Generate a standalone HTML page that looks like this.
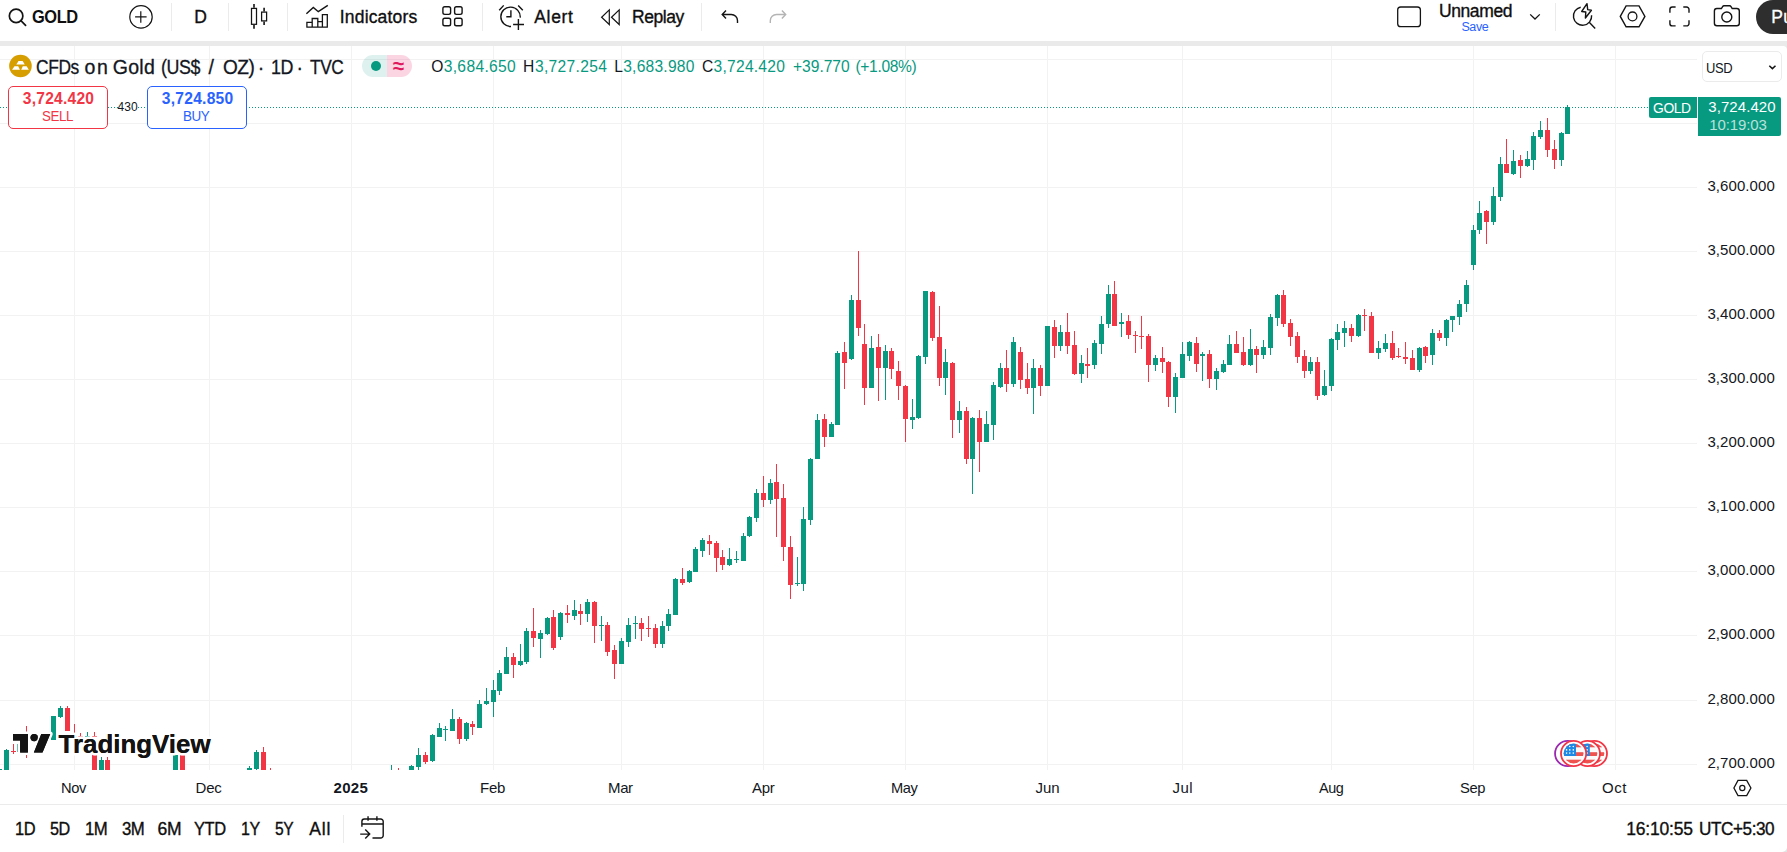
<!DOCTYPE html>
<html lang="en"><head><meta charset="utf-8"><title>GOLD 3,724.420 — TradingView</title>
<style>
html,body{margin:0;padding:0;background:#fff;}
body{width:1787px;height:852px;position:relative;overflow:hidden;font-family:"Liberation Sans",sans-serif;}
.t{position:absolute;white-space:pre;line-height:1;display:block;}
.abs{position:absolute;}
.chart{position:absolute;left:0;top:0;}
.sepbar{position:absolute;left:0;top:41px;width:1787px;height:5px;background:#eaeaea;}
.vsep{position:absolute;width:1px;background:#ebebeb;top:3px;height:28px;}
.box{position:absolute;box-sizing:border-box;border-radius:5px;background:#fff;}
</style></head><body>
<div class="sepbar"></div>
<svg class="chart" width="1787" height="852" viewBox="0 0 1787 852" shape-rendering="crispEdges">
<rect x="0" y="59" width="1697" height="1" fill="#f2f2f3"/>
<rect x="0" y="123" width="1697" height="1" fill="#f2f2f3"/>
<rect x="0" y="187" width="1697" height="1" fill="#f2f2f3"/>
<rect x="0" y="251" width="1697" height="1" fill="#f2f2f3"/>
<rect x="0" y="315" width="1697" height="1" fill="#f2f2f3"/>
<rect x="0" y="379" width="1697" height="1" fill="#f2f2f3"/>
<rect x="0" y="443" width="1697" height="1" fill="#f2f2f3"/>
<rect x="0" y="507" width="1697" height="1" fill="#f2f2f3"/>
<rect x="0" y="571" width="1697" height="1" fill="#f2f2f3"/>
<rect x="0" y="635" width="1697" height="1" fill="#f2f2f3"/>
<rect x="0" y="700" width="1697" height="1" fill="#f2f2f3"/>
<rect x="0" y="764" width="1697" height="1" fill="#f2f2f3"/>
<rect x="74" y="46" width="1" height="724" fill="#f2f2f3"/>
<rect x="209" y="46" width="1" height="724" fill="#f2f2f3"/>
<rect x="351" y="46" width="1" height="724" fill="#f2f2f3"/>
<rect x="493" y="46" width="1" height="724" fill="#f2f2f3"/>
<rect x="621" y="46" width="1" height="724" fill="#f2f2f3"/>
<rect x="763" y="46" width="1" height="724" fill="#f2f2f3"/>
<rect x="905" y="46" width="1" height="724" fill="#f2f2f3"/>
<rect x="1047" y="46" width="1" height="724" fill="#f2f2f3"/>
<rect x="1182" y="46" width="1" height="724" fill="#f2f2f3"/>
<rect x="1331" y="46" width="1" height="724" fill="#f2f2f3"/>
<rect x="1473" y="46" width="1" height="724" fill="#f2f2f3"/>
<rect x="1615" y="46" width="1" height="724" fill="#f2f2f3"/>
<rect x="-1" y="769" width="1" height="1" fill="#089981"/>
<rect x="-3" y="769" width="5" height="1" fill="#089981"/>
<rect x="6" y="749" width="1" height="21" fill="#089981"/>
<rect x="4" y="750" width="5" height="20" fill="#089981"/>
<rect x="13" y="744" width="1" height="10" fill="#f23645"/>
<rect x="11" y="751" width="5" height="1" fill="#f23645"/>
<rect x="19" y="744" width="1" height="8" fill="#089981"/>
<rect x="17" y="744" width="5" height="8" fill="#089981"/>
<rect x="26" y="726" width="1" height="32" fill="#f23645"/>
<rect x="24" y="736" width="5" height="16" fill="#f23645"/>
<rect x="53" y="716" width="1" height="24" fill="#089981"/>
<rect x="51" y="716" width="5" height="24" fill="#089981"/>
<rect x="60" y="706" width="1" height="12" fill="#089981"/>
<rect x="58" y="708" width="5" height="9" fill="#089981"/>
<rect x="67" y="706" width="1" height="25" fill="#f23645"/>
<rect x="65" y="708" width="5" height="23" fill="#f23645"/>
<rect x="74" y="724" width="1" height="21" fill="#f23645"/>
<rect x="72" y="736" width="5" height="9" fill="#f23645"/>
<rect x="80" y="733" width="1" height="12" fill="#f23645"/>
<rect x="78" y="736" width="5" height="9" fill="#f23645"/>
<rect x="87" y="732" width="1" height="13" fill="#089981"/>
<rect x="85" y="736" width="5" height="9" fill="#089981"/>
<rect x="94" y="732" width="1" height="38" fill="#f23645"/>
<rect x="92" y="736" width="5" height="34" fill="#f23645"/>
<rect x="101" y="757" width="1" height="13" fill="#089981"/>
<rect x="99" y="760" width="5" height="10" fill="#089981"/>
<rect x="107" y="757" width="1" height="13" fill="#f23645"/>
<rect x="105" y="760" width="5" height="10" fill="#f23645"/>
<rect x="175" y="753" width="1" height="17" fill="#089981"/>
<rect x="173" y="755" width="5" height="15" fill="#089981"/>
<rect x="182" y="755" width="1" height="15" fill="#f23645"/>
<rect x="180" y="755" width="5" height="15" fill="#f23645"/>
<rect x="249" y="766" width="1" height="4" fill="#089981"/>
<rect x="247" y="768" width="5" height="2" fill="#089981"/>
<rect x="256" y="750" width="1" height="20" fill="#089981"/>
<rect x="254" y="752" width="5" height="17" fill="#089981"/>
<rect x="263" y="747" width="1" height="23" fill="#f23645"/>
<rect x="261" y="752" width="5" height="18" fill="#f23645"/>
<rect x="270" y="768" width="1" height="2" fill="#f23645"/>
<rect x="391" y="765" width="1" height="5" fill="#089981"/>
<rect x="398" y="768" width="1" height="2" fill="#f23645"/>
<rect x="411" y="765" width="1" height="5" fill="#089981"/>
<rect x="409" y="766" width="5" height="4" fill="#089981"/>
<rect x="418" y="748" width="1" height="22" fill="#089981"/>
<rect x="416" y="755" width="5" height="12" fill="#089981"/>
<rect x="425" y="752" width="1" height="12" fill="#f23645"/>
<rect x="423" y="755" width="5" height="7" fill="#f23645"/>
<rect x="432" y="734" width="1" height="28" fill="#089981"/>
<rect x="430" y="735" width="5" height="26" fill="#089981"/>
<rect x="439" y="723" width="1" height="14" fill="#089981"/>
<rect x="437" y="728" width="5" height="9" fill="#089981"/>
<rect x="445" y="726" width="1" height="15" fill="#089981"/>
<rect x="443" y="729" width="5" height="1" fill="#089981"/>
<rect x="452" y="709" width="1" height="22" fill="#089981"/>
<rect x="450" y="719" width="5" height="12" fill="#089981"/>
<rect x="459" y="717" width="1" height="27" fill="#f23645"/>
<rect x="457" y="719" width="5" height="20" fill="#f23645"/>
<rect x="466" y="722" width="1" height="19" fill="#089981"/>
<rect x="464" y="723" width="5" height="16" fill="#089981"/>
<rect x="472" y="721" width="1" height="14" fill="#f23645"/>
<rect x="470" y="724" width="5" height="3" fill="#f23645"/>
<rect x="479" y="700" width="1" height="28" fill="#089981"/>
<rect x="477" y="704" width="5" height="24" fill="#089981"/>
<rect x="486" y="688" width="1" height="17" fill="#089981"/>
<rect x="484" y="701" width="5" height="3" fill="#089981"/>
<rect x="493" y="680" width="1" height="37" fill="#089981"/>
<rect x="491" y="690" width="5" height="12" fill="#089981"/>
<rect x="499" y="670" width="1" height="25" fill="#089981"/>
<rect x="497" y="673" width="5" height="18" fill="#089981"/>
<rect x="506" y="647" width="1" height="27" fill="#089981"/>
<rect x="504" y="657" width="5" height="17" fill="#089981"/>
<rect x="513" y="653" width="1" height="25" fill="#f23645"/>
<rect x="511" y="657" width="5" height="8" fill="#f23645"/>
<rect x="520" y="644" width="1" height="22" fill="#089981"/>
<rect x="518" y="661" width="5" height="4" fill="#089981"/>
<rect x="526" y="628" width="1" height="36" fill="#089981"/>
<rect x="524" y="631" width="5" height="31" fill="#089981"/>
<rect x="533" y="608" width="1" height="39" fill="#f23645"/>
<rect x="531" y="631" width="5" height="7" fill="#f23645"/>
<rect x="540" y="630" width="1" height="28" fill="#089981"/>
<rect x="538" y="633" width="5" height="6" fill="#089981"/>
<rect x="547" y="617" width="1" height="18" fill="#089981"/>
<rect x="545" y="618" width="5" height="16" fill="#089981"/>
<rect x="553" y="610" width="1" height="40" fill="#f23645"/>
<rect x="551" y="617" width="5" height="31" fill="#f23645"/>
<rect x="560" y="612" width="1" height="28" fill="#089981"/>
<rect x="558" y="613" width="5" height="24" fill="#089981"/>
<rect x="567" y="605" width="1" height="18" fill="#f23645"/>
<rect x="565" y="613" width="5" height="2" fill="#f23645"/>
<rect x="574" y="600" width="1" height="20" fill="#089981"/>
<rect x="572" y="610" width="5" height="6" fill="#089981"/>
<rect x="580" y="604" width="1" height="21" fill="#f23645"/>
<rect x="578" y="611" width="5" height="3" fill="#f23645"/>
<rect x="587" y="599" width="1" height="23" fill="#089981"/>
<rect x="585" y="602" width="5" height="12" fill="#089981"/>
<rect x="594" y="601" width="1" height="42" fill="#f23645"/>
<rect x="592" y="602" width="5" height="24" fill="#f23645"/>
<rect x="601" y="616" width="1" height="25" fill="#089981"/>
<rect x="599" y="625" width="5" height="1" fill="#089981"/>
<rect x="607" y="622" width="1" height="34" fill="#f23645"/>
<rect x="605" y="625" width="5" height="27" fill="#f23645"/>
<rect x="614" y="645" width="1" height="34" fill="#f23645"/>
<rect x="612" y="650" width="5" height="14" fill="#f23645"/>
<rect x="621" y="638" width="1" height="26" fill="#089981"/>
<rect x="619" y="641" width="5" height="23" fill="#089981"/>
<rect x="628" y="618" width="1" height="29" fill="#089981"/>
<rect x="626" y="625" width="5" height="17" fill="#089981"/>
<rect x="635" y="616" width="1" height="23" fill="#089981"/>
<rect x="633" y="623" width="5" height="1" fill="#089981"/>
<rect x="641" y="618" width="1" height="23" fill="#f23645"/>
<rect x="639" y="623" width="5" height="6" fill="#f23645"/>
<rect x="648" y="616" width="1" height="21" fill="#f23645"/>
<rect x="646" y="628" width="5" height="1" fill="#f23645"/>
<rect x="655" y="624" width="1" height="24" fill="#f23645"/>
<rect x="653" y="628" width="5" height="16" fill="#f23645"/>
<rect x="662" y="621" width="1" height="27" fill="#089981"/>
<rect x="660" y="626" width="5" height="18" fill="#089981"/>
<rect x="668" y="609" width="1" height="22" fill="#089981"/>
<rect x="666" y="614" width="5" height="12" fill="#089981"/>
<rect x="675" y="578" width="1" height="37" fill="#089981"/>
<rect x="673" y="579" width="5" height="36" fill="#089981"/>
<rect x="682" y="568" width="1" height="17" fill="#f23645"/>
<rect x="680" y="579" width="5" height="4" fill="#f23645"/>
<rect x="689" y="570" width="1" height="13" fill="#089981"/>
<rect x="687" y="571" width="5" height="11" fill="#089981"/>
<rect x="695" y="547" width="1" height="25" fill="#089981"/>
<rect x="693" y="549" width="5" height="23" fill="#089981"/>
<rect x="702" y="538" width="1" height="19" fill="#089981"/>
<rect x="700" y="540" width="5" height="11" fill="#089981"/>
<rect x="709" y="535" width="1" height="20" fill="#f23645"/>
<rect x="707" y="541" width="5" height="3" fill="#f23645"/>
<rect x="716" y="541" width="1" height="31" fill="#f23645"/>
<rect x="714" y="543" width="5" height="15" fill="#f23645"/>
<rect x="722" y="550" width="1" height="20" fill="#f23645"/>
<rect x="720" y="557" width="5" height="8" fill="#f23645"/>
<rect x="729" y="548" width="1" height="18" fill="#089981"/>
<rect x="727" y="559" width="5" height="6" fill="#089981"/>
<rect x="736" y="551" width="1" height="12" fill="#089981"/>
<rect x="734" y="559" width="5" height="1" fill="#089981"/>
<rect x="743" y="533" width="1" height="28" fill="#089981"/>
<rect x="741" y="536" width="5" height="25" fill="#089981"/>
<rect x="749" y="516" width="1" height="21" fill="#089981"/>
<rect x="747" y="517" width="5" height="19" fill="#089981"/>
<rect x="756" y="489" width="1" height="33" fill="#089981"/>
<rect x="754" y="493" width="5" height="25" fill="#089981"/>
<rect x="763" y="476" width="1" height="31" fill="#f23645"/>
<rect x="761" y="493" width="5" height="7" fill="#f23645"/>
<rect x="770" y="479" width="1" height="25" fill="#089981"/>
<rect x="768" y="483" width="5" height="17" fill="#089981"/>
<rect x="776" y="464" width="1" height="73" fill="#f23645"/>
<rect x="774" y="482" width="5" height="17" fill="#f23645"/>
<rect x="783" y="484" width="1" height="77" fill="#f23645"/>
<rect x="781" y="498" width="5" height="49" fill="#f23645"/>
<rect x="790" y="536" width="1" height="63" fill="#f23645"/>
<rect x="788" y="547" width="5" height="38" fill="#f23645"/>
<rect x="797" y="557" width="1" height="29" fill="#089981"/>
<rect x="795" y="583" width="5" height="1" fill="#089981"/>
<rect x="803" y="507" width="1" height="84" fill="#089981"/>
<rect x="801" y="519" width="5" height="65" fill="#089981"/>
<rect x="810" y="458" width="1" height="67" fill="#089981"/>
<rect x="808" y="459" width="5" height="61" fill="#089981"/>
<rect x="817" y="414" width="1" height="45" fill="#089981"/>
<rect x="815" y="420" width="5" height="39" fill="#089981"/>
<rect x="824" y="414" width="1" height="33" fill="#f23645"/>
<rect x="822" y="419" width="5" height="18" fill="#f23645"/>
<rect x="831" y="422" width="1" height="15" fill="#089981"/>
<rect x="829" y="424" width="5" height="13" fill="#089981"/>
<rect x="837" y="351" width="1" height="74" fill="#089981"/>
<rect x="835" y="353" width="5" height="72" fill="#089981"/>
<rect x="844" y="342" width="1" height="47" fill="#f23645"/>
<rect x="842" y="352" width="5" height="11" fill="#f23645"/>
<rect x="851" y="295" width="1" height="65" fill="#089981"/>
<rect x="849" y="300" width="5" height="59" fill="#089981"/>
<rect x="858" y="251" width="1" height="85" fill="#f23645"/>
<rect x="856" y="300" width="5" height="28" fill="#f23645"/>
<rect x="864" y="324" width="1" height="81" fill="#f23645"/>
<rect x="862" y="344" width="5" height="44" fill="#f23645"/>
<rect x="871" y="336" width="1" height="52" fill="#089981"/>
<rect x="869" y="348" width="5" height="40" fill="#089981"/>
<rect x="878" y="334" width="1" height="67" fill="#f23645"/>
<rect x="876" y="347" width="5" height="21" fill="#f23645"/>
<rect x="885" y="345" width="1" height="55" fill="#089981"/>
<rect x="883" y="351" width="5" height="17" fill="#089981"/>
<rect x="891" y="348" width="1" height="31" fill="#f23645"/>
<rect x="889" y="351" width="5" height="18" fill="#f23645"/>
<rect x="898" y="361" width="1" height="39" fill="#f23645"/>
<rect x="896" y="371" width="5" height="15" fill="#f23645"/>
<rect x="905" y="385" width="1" height="57" fill="#f23645"/>
<rect x="903" y="386" width="5" height="33" fill="#f23645"/>
<rect x="912" y="399" width="1" height="30" fill="#089981"/>
<rect x="910" y="417" width="5" height="3" fill="#089981"/>
<rect x="918" y="355" width="1" height="64" fill="#089981"/>
<rect x="916" y="356" width="5" height="62" fill="#089981"/>
<rect x="925" y="291" width="1" height="73" fill="#089981"/>
<rect x="923" y="291" width="5" height="66" fill="#089981"/>
<rect x="932" y="291" width="1" height="50" fill="#f23645"/>
<rect x="930" y="292" width="5" height="46" fill="#f23645"/>
<rect x="939" y="306" width="1" height="80" fill="#f23645"/>
<rect x="937" y="337" width="5" height="41" fill="#f23645"/>
<rect x="945" y="349" width="1" height="46" fill="#089981"/>
<rect x="943" y="362" width="5" height="16" fill="#089981"/>
<rect x="952" y="362" width="1" height="76" fill="#f23645"/>
<rect x="950" y="363" width="5" height="57" fill="#f23645"/>
<rect x="959" y="401" width="1" height="32" fill="#089981"/>
<rect x="957" y="411" width="5" height="9" fill="#089981"/>
<rect x="966" y="407" width="1" height="57" fill="#f23645"/>
<rect x="964" y="411" width="5" height="48" fill="#f23645"/>
<rect x="972" y="417" width="1" height="77" fill="#089981"/>
<rect x="970" y="418" width="5" height="41" fill="#089981"/>
<rect x="979" y="410" width="1" height="62" fill="#f23645"/>
<rect x="977" y="418" width="5" height="24" fill="#f23645"/>
<rect x="986" y="411" width="1" height="31" fill="#089981"/>
<rect x="984" y="424" width="5" height="18" fill="#089981"/>
<rect x="993" y="382" width="1" height="58" fill="#089981"/>
<rect x="991" y="385" width="5" height="40" fill="#089981"/>
<rect x="1000" y="363" width="1" height="25" fill="#089981"/>
<rect x="998" y="368" width="5" height="19" fill="#089981"/>
<rect x="1006" y="350" width="1" height="42" fill="#f23645"/>
<rect x="1004" y="368" width="5" height="16" fill="#f23645"/>
<rect x="1013" y="337" width="1" height="50" fill="#089981"/>
<rect x="1011" y="342" width="5" height="42" fill="#089981"/>
<rect x="1020" y="347" width="1" height="42" fill="#f23645"/>
<rect x="1018" y="352" width="5" height="28" fill="#f23645"/>
<rect x="1027" y="363" width="1" height="31" fill="#f23645"/>
<rect x="1025" y="379" width="5" height="9" fill="#f23645"/>
<rect x="1033" y="359" width="1" height="55" fill="#089981"/>
<rect x="1031" y="368" width="5" height="20" fill="#089981"/>
<rect x="1040" y="365" width="1" height="31" fill="#f23645"/>
<rect x="1038" y="368" width="5" height="18" fill="#f23645"/>
<rect x="1047" y="326" width="1" height="60" fill="#089981"/>
<rect x="1045" y="326" width="5" height="60" fill="#089981"/>
<rect x="1054" y="320" width="1" height="38" fill="#f23645"/>
<rect x="1052" y="327" width="5" height="19" fill="#f23645"/>
<rect x="1060" y="325" width="1" height="26" fill="#089981"/>
<rect x="1058" y="332" width="5" height="14" fill="#089981"/>
<rect x="1067" y="313" width="1" height="41" fill="#f23645"/>
<rect x="1065" y="332" width="5" height="14" fill="#f23645"/>
<rect x="1074" y="331" width="1" height="44" fill="#f23645"/>
<rect x="1072" y="345" width="5" height="29" fill="#f23645"/>
<rect x="1081" y="355" width="1" height="28" fill="#089981"/>
<rect x="1079" y="363" width="5" height="11" fill="#089981"/>
<rect x="1087" y="348" width="1" height="30" fill="#f23645"/>
<rect x="1085" y="364" width="5" height="2" fill="#f23645"/>
<rect x="1094" y="340" width="1" height="29" fill="#089981"/>
<rect x="1092" y="343" width="5" height="22" fill="#089981"/>
<rect x="1101" y="316" width="1" height="38" fill="#089981"/>
<rect x="1099" y="324" width="5" height="20" fill="#089981"/>
<rect x="1108" y="285" width="1" height="43" fill="#089981"/>
<rect x="1106" y="294" width="5" height="30" fill="#089981"/>
<rect x="1114" y="281" width="1" height="45" fill="#f23645"/>
<rect x="1112" y="294" width="5" height="32" fill="#f23645"/>
<rect x="1121" y="313" width="1" height="24" fill="#089981"/>
<rect x="1119" y="322" width="5" height="2" fill="#089981"/>
<rect x="1128" y="315" width="1" height="24" fill="#f23645"/>
<rect x="1126" y="321" width="5" height="14" fill="#f23645"/>
<rect x="1135" y="331" width="1" height="22" fill="#f23645"/>
<rect x="1133" y="335" width="5" height="1" fill="#f23645"/>
<rect x="1141" y="316" width="1" height="33" fill="#f23645"/>
<rect x="1139" y="336" width="5" height="1" fill="#f23645"/>
<rect x="1148" y="334" width="1" height="48" fill="#f23645"/>
<rect x="1146" y="336" width="5" height="29" fill="#f23645"/>
<rect x="1155" y="355" width="1" height="16" fill="#089981"/>
<rect x="1153" y="358" width="5" height="7" fill="#089981"/>
<rect x="1162" y="347" width="1" height="26" fill="#f23645"/>
<rect x="1160" y="358" width="5" height="4" fill="#f23645"/>
<rect x="1168" y="361" width="1" height="46" fill="#f23645"/>
<rect x="1166" y="362" width="5" height="35" fill="#f23645"/>
<rect x="1175" y="373" width="1" height="40" fill="#089981"/>
<rect x="1173" y="377" width="5" height="20" fill="#089981"/>
<rect x="1182" y="342" width="1" height="36" fill="#089981"/>
<rect x="1180" y="354" width="5" height="24" fill="#089981"/>
<rect x="1189" y="341" width="1" height="20" fill="#089981"/>
<rect x="1187" y="342" width="5" height="14" fill="#089981"/>
<rect x="1196" y="337" width="1" height="35" fill="#f23645"/>
<rect x="1194" y="343" width="5" height="21" fill="#f23645"/>
<rect x="1202" y="352" width="1" height="29" fill="#089981"/>
<rect x="1200" y="354" width="5" height="2" fill="#089981"/>
<rect x="1209" y="350" width="1" height="38" fill="#f23645"/>
<rect x="1207" y="354" width="5" height="25" fill="#f23645"/>
<rect x="1216" y="368" width="1" height="22" fill="#089981"/>
<rect x="1214" y="371" width="5" height="8" fill="#089981"/>
<rect x="1223" y="360" width="1" height="13" fill="#089981"/>
<rect x="1221" y="364" width="5" height="8" fill="#089981"/>
<rect x="1229" y="335" width="1" height="30" fill="#089981"/>
<rect x="1227" y="344" width="5" height="21" fill="#089981"/>
<rect x="1236" y="331" width="1" height="22" fill="#f23645"/>
<rect x="1234" y="344" width="5" height="9" fill="#f23645"/>
<rect x="1243" y="337" width="1" height="29" fill="#f23645"/>
<rect x="1241" y="352" width="5" height="13" fill="#f23645"/>
<rect x="1250" y="329" width="1" height="37" fill="#089981"/>
<rect x="1248" y="349" width="5" height="16" fill="#089981"/>
<rect x="1256" y="346" width="1" height="27" fill="#f23645"/>
<rect x="1254" y="349" width="5" height="6" fill="#f23645"/>
<rect x="1263" y="340" width="1" height="19" fill="#089981"/>
<rect x="1261" y="347" width="5" height="8" fill="#089981"/>
<rect x="1270" y="314" width="1" height="41" fill="#089981"/>
<rect x="1268" y="317" width="5" height="31" fill="#089981"/>
<rect x="1277" y="294" width="1" height="32" fill="#089981"/>
<rect x="1275" y="295" width="5" height="23" fill="#089981"/>
<rect x="1283" y="290" width="1" height="37" fill="#f23645"/>
<rect x="1281" y="295" width="5" height="29" fill="#f23645"/>
<rect x="1290" y="319" width="1" height="27" fill="#f23645"/>
<rect x="1288" y="323" width="5" height="14" fill="#f23645"/>
<rect x="1297" y="332" width="1" height="31" fill="#f23645"/>
<rect x="1295" y="336" width="5" height="21" fill="#f23645"/>
<rect x="1304" y="350" width="1" height="28" fill="#f23645"/>
<rect x="1302" y="356" width="5" height="15" fill="#f23645"/>
<rect x="1310" y="357" width="1" height="17" fill="#089981"/>
<rect x="1308" y="362" width="5" height="9" fill="#089981"/>
<rect x="1317" y="357" width="1" height="43" fill="#f23645"/>
<rect x="1315" y="362" width="5" height="34" fill="#f23645"/>
<rect x="1324" y="370" width="1" height="26" fill="#089981"/>
<rect x="1322" y="386" width="5" height="9" fill="#089981"/>
<rect x="1331" y="338" width="1" height="53" fill="#089981"/>
<rect x="1329" y="339" width="5" height="47" fill="#089981"/>
<rect x="1337" y="324" width="1" height="26" fill="#089981"/>
<rect x="1335" y="332" width="5" height="8" fill="#089981"/>
<rect x="1344" y="321" width="1" height="26" fill="#089981"/>
<rect x="1342" y="328" width="5" height="5" fill="#089981"/>
<rect x="1351" y="324" width="1" height="18" fill="#f23645"/>
<rect x="1349" y="328" width="5" height="8" fill="#f23645"/>
<rect x="1358" y="314" width="1" height="23" fill="#089981"/>
<rect x="1356" y="315" width="5" height="21" fill="#089981"/>
<rect x="1364" y="309" width="1" height="22" fill="#f23645"/>
<rect x="1362" y="315" width="5" height="1" fill="#f23645"/>
<rect x="1371" y="312" width="1" height="41" fill="#f23645"/>
<rect x="1369" y="316" width="5" height="37" fill="#f23645"/>
<rect x="1378" y="341" width="1" height="18" fill="#089981"/>
<rect x="1376" y="348" width="5" height="5" fill="#089981"/>
<rect x="1385" y="334" width="1" height="18" fill="#089981"/>
<rect x="1383" y="343" width="5" height="6" fill="#089981"/>
<rect x="1392" y="331" width="1" height="29" fill="#f23645"/>
<rect x="1390" y="343" width="5" height="15" fill="#f23645"/>
<rect x="1398" y="348" width="1" height="10" fill="#f23645"/>
<rect x="1396" y="356" width="5" height="1" fill="#f23645"/>
<rect x="1405" y="342" width="1" height="22" fill="#f23645"/>
<rect x="1403" y="357" width="5" height="2" fill="#f23645"/>
<rect x="1412" y="350" width="1" height="20" fill="#f23645"/>
<rect x="1410" y="358" width="5" height="12" fill="#f23645"/>
<rect x="1419" y="347" width="1" height="25" fill="#089981"/>
<rect x="1417" y="348" width="5" height="22" fill="#089981"/>
<rect x="1425" y="346" width="1" height="17" fill="#f23645"/>
<rect x="1423" y="347" width="5" height="9" fill="#f23645"/>
<rect x="1432" y="329" width="1" height="36" fill="#089981"/>
<rect x="1430" y="333" width="5" height="22" fill="#089981"/>
<rect x="1439" y="330" width="1" height="11" fill="#f23645"/>
<rect x="1437" y="333" width="5" height="5" fill="#f23645"/>
<rect x="1446" y="319" width="1" height="27" fill="#089981"/>
<rect x="1444" y="320" width="5" height="18" fill="#089981"/>
<rect x="1452" y="316" width="1" height="16" fill="#089981"/>
<rect x="1450" y="316" width="5" height="4" fill="#089981"/>
<rect x="1459" y="300" width="1" height="25" fill="#089981"/>
<rect x="1457" y="304" width="5" height="13" fill="#089981"/>
<rect x="1466" y="280" width="1" height="32" fill="#089981"/>
<rect x="1464" y="285" width="5" height="19" fill="#089981"/>
<rect x="1473" y="225" width="1" height="45" fill="#089981"/>
<rect x="1471" y="230" width="5" height="35" fill="#089981"/>
<rect x="1479" y="201" width="1" height="33" fill="#089981"/>
<rect x="1477" y="213" width="5" height="17" fill="#089981"/>
<rect x="1486" y="210" width="1" height="34" fill="#f23645"/>
<rect x="1484" y="211" width="5" height="11" fill="#f23645"/>
<rect x="1493" y="187" width="1" height="38" fill="#089981"/>
<rect x="1491" y="196" width="5" height="26" fill="#089981"/>
<rect x="1500" y="157" width="1" height="44" fill="#089981"/>
<rect x="1498" y="164" width="5" height="33" fill="#089981"/>
<rect x="1506" y="139" width="1" height="34" fill="#f23645"/>
<rect x="1504" y="164" width="5" height="9" fill="#f23645"/>
<rect x="1513" y="150" width="1" height="25" fill="#089981"/>
<rect x="1511" y="161" width="5" height="13" fill="#089981"/>
<rect x="1520" y="155" width="1" height="23" fill="#f23645"/>
<rect x="1518" y="160" width="5" height="6" fill="#f23645"/>
<rect x="1527" y="151" width="1" height="16" fill="#089981"/>
<rect x="1525" y="159" width="5" height="7" fill="#089981"/>
<rect x="1533" y="132" width="1" height="38" fill="#089981"/>
<rect x="1531" y="136" width="5" height="24" fill="#089981"/>
<rect x="1540" y="121" width="1" height="18" fill="#089981"/>
<rect x="1538" y="130" width="5" height="7" fill="#089981"/>
<rect x="1547" y="118" width="1" height="39" fill="#f23645"/>
<rect x="1545" y="130" width="5" height="20" fill="#f23645"/>
<rect x="1554" y="140" width="1" height="29" fill="#f23645"/>
<rect x="1552" y="149" width="5" height="11" fill="#f23645"/>
<rect x="1561" y="132" width="1" height="34" fill="#089981"/>
<rect x="1559" y="133" width="5" height="27" fill="#089981"/>
<rect x="1567" y="105" width="1" height="29" fill="#089981"/>
<rect x="1565" y="107" width="5" height="27" fill="#089981"/>
<line x1="0" y1="107.5" x2="1649" y2="107.5" stroke="#089981" stroke-width="1" stroke-dasharray="1 2"/>
</svg>
<div class="abs" style="left:0;top:804px;width:1787px;height:1px;background:#ebebeb"></div>
<div class="vsep" style="left:171px"></div><div class="vsep" style="left:228px"></div><div class="vsep" style="left:287px"></div>
<div class="vsep" style="left:482px"></div><div class="vsep" style="left:701px"></div><div class="vsep" style="left:1555px"></div>
<div class="vsep" style="left:343px;top:815px;height:28px"></div>
<!-- publish pill -->
<div class="abs" style="left:1756px;top:0;width:120px;height:34px;border-radius:17px;background:#2e2e2e"></div>
<!-- legend pill -->
<div class="abs" style="left:362px;top:55px;width:25px;height:22px;border-radius:11px 0 0 11px;background:rgba(8,153,129,.135)"></div>
<div class="abs" style="left:387px;top:55px;width:25px;height:22px;border-radius:0 11px 11px 0;background:rgba(233,30,99,.19)"></div>
<div class="abs" style="left:371px;top:61px;width:10px;height:10px;border-radius:5px;background:#089981"></div>
<!-- usd -->
<div class="box" style="left:1702px;top:51px;width:80px;height:31px;border:1px solid #ebebec;border-radius:5px"></div>
<!-- sell buy -->
<div class="box" style="left:8px;top:86px;width:100px;height:43px;border:1px solid #f23645"></div>
<div class="box" style="left:147px;top:86px;width:100px;height:43px;border:1px solid #2962ff"></div>
<!-- price labels -->
<div class="abs" style="left:1649px;top:97px;width:48px;height:21px;background:#089981;border-radius:2px 0 0 2px"></div>
<div class="abs" style="left:1698px;top:97px;width:83px;height:39px;background:#089981;border-radius:0 2px 2px 0"></div>
<svg class="chart" width="1787" height="852" viewBox="0 0 1787 852" fill="none" stroke="#141414" stroke-width="1.4" stroke-linecap="butt" stroke-linejoin="miter">
<path d="M1783 46H1787V50A4 4 0 0 0 1783 46Z" fill="#e9e9ea" stroke="none"/><path d="M1787 847V852H1782A5 5 0 0 0 1787 847Z" fill="#e4e4e5" stroke="none"/>
<!-- search -->
<circle cx="16.1" cy="15.9" r="6.75" stroke-width="1.7"/><path d="M20.9 20.7L25.6 25.4" stroke-width="1.7" stroke-linecap="round"/>
<!-- plus circle -->
<circle cx="141" cy="16.9" r="11.2" stroke-width="1.2"/><path d="M135.1 16.9H146.6M140.8 11.2V22.7" stroke-width="1.2"/>
<!-- candles -->
<rect x="251.5" y="8.4" width="5" height="15.9" stroke-width="1.25"/><path d="M254 3.9V7.8M254 24.9V28.8M264.1 7.8V11.5M264.1 21.5V24.9" stroke-width="1.6"/>
<rect x="261.6" y="12.1" width="5" height="8.8" stroke-width="1.25"/>
<!-- indicators -->
<path d="M306.4 13.7L313.3 7.4L318.3 11.7L327.8 5.4" stroke-width="1.45"/>
<path d="M306.9 27.1V22.4H312.2M312.2 27.1V18.5H317.8V27.1M317.8 21.6H322.4M322.4 27.1V14.6H327.3V27.1M306.3 27.1H327.9" stroke-width="1.3"/>
<!-- grid 4 squares -->
<rect x="442.9" y="6.8" width="7.7" height="7.6" rx="1.8"/><rect x="454.6" y="6.8" width="7.5" height="7.6" rx="1.8"/>
<rect x="442.9" y="18.2" width="7.7" height="7.5" rx="1.8"/><rect x="454.6" y="18.2" width="7.5" height="7.5" rx="1.8"/>
<!-- alert -->
<path d="M520.2 17.6A9.7 9.7 0 1 0 511 26.5"/><path d="M499.2 10.3L503.7 5.4M518.2 5.4L522.8 10.3M510.9 10.3V16.8H506.3M513.1 24.45H524M518.4 19V29.9"/>
<!-- replay -->
<path d="M609.3 9.9V24.5L601.6 17.2ZM619.2 9.9V24.5L611.5 17.2Z" stroke-width="1.2"/>
<!-- undo / redo -->
<path d="M726 10.6L722.2 14.5L726 18.6M722.4 14.5H731.3A6.2 6.2 0 0 1 737.5 20.7V23"/>
<path d="M781.9 10.6L785.7 14.5L781.9 18.6M785.5 14.5H776.5A6.2 6.2 0 0 0 770.3 20.7V23" stroke="#b4b4b4"/>
<!-- layout square -->
<rect x="1397.7" y="7" width="22.7" height="19.7" rx="3" stroke-width="1.3"/>
<!-- chevron -->
<path d="M1530.2 14.4L1535 19L1539.8 14.4" stroke-width="1.3"/>
<!-- quick search -->
<path d="M1580.7 7.2A9.1 9.1 0 1 0 1591.6 15.3M1589.2 22.2L1595.2 28.4"/>
<path d="M1587 3.6L1581.7 11.5L1585.8 12L1585.4 18L1591.4 10.2L1587.7 9.6Z" stroke-linejoin="round"/>
<!-- settings hex -->
<path d="M1620.3 16.4L1626.1 5.9H1639L1644.9 16.4L1639 26.8H1626.1Z" stroke-width="1.4"/><circle cx="1632.5" cy="16.4" r="4.4" stroke-width="1.3"/>
<!-- fullscreen -->
<path d="M1669.9 12.7V9.5A2.5 2.5 0 0 1 1672.4 7H1675.6M1683.3 7H1686.5A2.5 2.5 0 0 1 1689 9.5V12.7M1689 20.2V23.4A2.5 2.5 0 0 1 1686.5 25.9H1683.3M1675.6 25.9H1672.4A2.5 2.5 0 0 1 1669.9 23.4V20.2" stroke-width="1.4"/>
<!-- camera -->
<path d="M1714.4 11V23.2A2.5 2.5 0 0 0 1716.9 25.7H1736.8A2.5 2.5 0 0 0 1739.3 23.2V11A2.5 2.5 0 0 0 1736.8 8.5H1732.2L1731 6.6A1.8 1.8 0 0 0 1729.6 5.8H1724A1.8 1.8 0 0 0 1722.6 6.6L1721.4 8.5H1716.9A2.5 2.5 0 0 0 1714.4 11Z" stroke-width="1.4"/><circle cx="1726.8" cy="17" r="5" stroke-width="1.4"/>
<!-- usd chevron -->
<path d="M1769.3 65.7L1772.4 68.6L1775.5 65.7" stroke-width="1.5"/>
<!-- time axis hex -->
<path d="M1733.9 788L1738 780.4H1746.7L1750.9 788L1746.7 795.6H1738Z" stroke-width="1.3"/><circle cx="1742.3" cy="788" r="2.6" stroke-width="1.2"/>
<!-- calendar goto -->
<path d="M361.9 826.8V821.5A2.5 2.5 0 0 1 364.4 819H380.7A2.5 2.5 0 0 1 383.2 821.5V835.5A2.5 2.5 0 0 1 380.7 838H372.5M361.9 824H383.2M368.05 816.2V820.7M376.9 816.2V820.7M360.2 834.1H369.5M365.25 829.6L369.7 834.1L365.25 838.6" stroke-width="1.4"/>
<!-- gold icon -->
<g stroke="none">
<circle cx="20.45" cy="66" r="11.3" fill="#d69e00"/>
<path d="M18.55 61.1H22.6L24.8 64.55H16.3ZM14.5 66.2H18.2L19.9 69.7H12.05ZM22.8 66.2H26.6L28.85 69.7H21.2Z" fill="#fff"/>
</g>
<!-- flags -->
<defs><clipPath id="fc"><circle cx="0" cy="0" r="9.9"/></clipPath></defs>
<circle cx="1567.65" cy="753.5" r="12.6" fill="#fff" stroke="#9c27b0" stroke-width="1.8"/>
<g transform="translate(1594.4 753.5)">
<circle cx="0" cy="0" r="12.6" fill="#fff" stroke="#f23645" stroke-width="1.8"/>
<g clip-path="url(#fc)" stroke="none">
<rect x="-11" y="-11" width="22" height="22" fill="#fafafa"/>
<rect x="-11" y="-9.8" width="22" height="3.6" fill="#ef5350"/>
<rect x="-11" y="-1.3" width="22" height="3.8" fill="#ef5350"/>
<rect x="-11" y="6.2" width="22" height="5" fill="#ef5350"/>
<rect x="-11" y="-11" width="13.4" height="13.5" fill="#1e88e5"/>
<g fill="#fff"><circle cx="-3.8" cy="-7" r=".8"/><circle cx="-0.3" cy="-7" r=".8"/><circle cx="-7" cy="-3.6" r=".8"/><circle cx="-3.8" cy="-3.6" r=".8"/><circle cx="-0.3" cy="-3.6" r=".8"/><circle cx="-7" cy="-0.4" r=".8"/><circle cx="-3.8" cy="-0.4" r=".8"/><circle cx="-0.3" cy="-0.4" r=".8"/></g>
</g>
</g><g transform="translate(1587.4 753.5)">
<circle cx="0" cy="0" r="12.6" fill="#fff" stroke="#f23645" stroke-width="1.8"/>
<g clip-path="url(#fc)" stroke="none">
<rect x="-11" y="-11" width="22" height="22" fill="#fafafa"/>
<rect x="-11" y="-9.8" width="22" height="3.6" fill="#ef5350"/>
<rect x="-11" y="-1.3" width="22" height="3.8" fill="#ef5350"/>
<rect x="-11" y="6.2" width="22" height="5" fill="#ef5350"/>
<rect x="-11" y="-11" width="13.4" height="13.5" fill="#1e88e5"/>
<g fill="#fff"><circle cx="-3.8" cy="-7" r=".8"/><circle cx="-0.3" cy="-7" r=".8"/><circle cx="-7" cy="-3.6" r=".8"/><circle cx="-3.8" cy="-3.6" r=".8"/><circle cx="-0.3" cy="-3.6" r=".8"/><circle cx="-7" cy="-0.4" r=".8"/><circle cx="-3.8" cy="-0.4" r=".8"/><circle cx="-0.3" cy="-0.4" r=".8"/></g>
</g>
</g><g transform="translate(1573.6 753.5)">
<circle cx="0" cy="0" r="12.6" fill="#fff" stroke="#f23645" stroke-width="1.8"/>
<g clip-path="url(#fc)" stroke="none">
<rect x="-11" y="-11" width="22" height="22" fill="#fafafa"/>
<rect x="-11" y="-9.8" width="22" height="3.6" fill="#ef5350"/>
<rect x="-11" y="-1.3" width="22" height="3.8" fill="#ef5350"/>
<rect x="-11" y="6.2" width="22" height="5" fill="#ef5350"/>
<rect x="-11" y="-11" width="13.4" height="13.5" fill="#1e88e5"/>
<g fill="#fff"><circle cx="-3.8" cy="-7" r=".8"/><circle cx="-0.3" cy="-7" r=".8"/><circle cx="-7" cy="-3.6" r=".8"/><circle cx="-3.8" cy="-3.6" r=".8"/><circle cx="-0.3" cy="-3.6" r=".8"/><circle cx="-7" cy="-0.4" r=".8"/><circle cx="-3.8" cy="-0.4" r=".8"/><circle cx="-0.3" cy="-0.4" r=".8"/></g>
</g>
</g>
<!-- logo -->
<rect x="62" y="736.6" width="147" height="17" fill="#fff" stroke="none"/>
<g stroke="#fff" stroke-width="5" stroke-linejoin="round" fill="#131313" paint-order="stroke">
<path d="M13 734.1H27.9V752.4H20.1V740.4H13Z"/><circle cx="34.2" cy="737.6" r="3.7"/><path d="M41.3 734.1H50.2L42.5 752.4H33.9Z"/>
<text x="58.6" y="752.8" font-family="Liberation Sans, sans-serif" font-weight="700" font-size="25.5" textLength="152" lengthAdjust="spacingAndGlyphs" stroke-width="5">TradingView</text>
</g>
<g stroke="none" fill="#131313">
<path d="M13 734.1H27.9V752.4H20.1V740.4H13Z"/><circle cx="34.2" cy="737.6" r="3.7"/><path d="M41.3 734.1H50.2L42.5 752.4H33.9Z"/>
<text x="58.6" y="752.8" font-family="Liberation Sans, sans-serif" font-weight="700" font-size="25.5" textLength="152" lengthAdjust="spacingAndGlyphs">TradingView</text>
</g>
</svg>

<span class="t" style="left:32.26px;top:9px;font-size:17.5px;letter-spacing:-0.450px;color:#0f0f0f;transform:scaleX(0.9381);transform-origin:0 0;font-weight:700;">GOLD</span>
<span class="t" style="left:194.20px;top:9px;font-size:17.5px;letter-spacing:0.000px;color:#0f0f0f;-webkit-text-stroke:0.35px #0f0f0f;">D</span>
<span class="t" style="left:339.80px;top:9px;font-size:17.5px;letter-spacing:0.167px;color:#0f0f0f;-webkit-text-stroke:0.35px #0f0f0f;">Indicators</span>
<span class="t" style="left:534.30px;top:9px;font-size:17.5px;letter-spacing:0.650px;color:#0f0f0f;-webkit-text-stroke:0.35px #0f0f0f;">Alert</span>
<span class="t" style="left:631.50px;top:9px;font-size:17.5px;letter-spacing:-0.450px;color:#0f0f0f;transform:scaleX(0.9990);transform-origin:0 0;-webkit-text-stroke:0.35px #0f0f0f;">Replay</span>
<span class="t" style="left:1438.90px;top:3px;font-size:17.5px;letter-spacing:-0.383px;color:#0f0f0f;-webkit-text-stroke:0.35px #0f0f0f;">Unnamed</span>
<span class="t" style="left:1461.40px;top:21px;font-size:12.5px;letter-spacing:-0.400px;color:#2962ff;">Save</span>
<span class="t" style="left:1771.30px;top:9px;font-size:17.5px;letter-spacing:0.283px;color:#fff;-webkit-text-stroke:0.3px #fff;">Publish</span>
<span class="t" style="left:36.41px;top:58px;font-size:19.5px;letter-spacing:-0.450px;color:#131722;transform:scaleX(0.8917);transform-origin:0 0;-webkit-text-stroke:0.3px #131722;">CFDs</span>
<span class="t" style="left:84.60px;top:58px;font-size:19.5px;letter-spacing:1.500px;color:#131722;-webkit-text-stroke:0.3px #131722;">on</span>
<span class="t" style="left:112.80px;top:58px;font-size:19.5px;letter-spacing:0.267px;color:#131722;-webkit-text-stroke:0.3px #131722;">Gold</span>
<span class="t" style="left:161.09px;top:58px;font-size:19.5px;letter-spacing:-0.450px;color:#131722;transform:scaleX(0.9148);transform-origin:0 0;-webkit-text-stroke:0.3px #131722;">(US$</span>
<span class="t" style="left:208.60px;top:58px;font-size:19.5px;letter-spacing:0.000px;color:#131722;-webkit-text-stroke:0.3px #131722;">/</span>
<span class="t" style="left:223.12px;top:58px;font-size:19.5px;letter-spacing:-0.450px;color:#131722;transform:scaleX(0.9767);transform-origin:0 0;-webkit-text-stroke:0.3px #131722;">OZ)</span>
<span class="t" style="left:257.80px;top:58px;font-size:19.5px;letter-spacing:0.000px;color:#131722;-webkit-text-stroke:0.3px #131722;">·</span>
<span class="t" style="left:271.28px;top:58px;font-size:19.5px;letter-spacing:-0.450px;color:#131722;transform:scaleX(0.9180);transform-origin:0 0;-webkit-text-stroke:0.3px #131722;">1D</span>
<span class="t" style="left:296.60px;top:58px;font-size:19.5px;letter-spacing:0.000px;color:#131722;-webkit-text-stroke:0.3px #131722;">·</span>
<span class="t" style="left:309.80px;top:58px;font-size:19.5px;letter-spacing:-0.450px;color:#131722;transform:scaleX(0.8841);transform-origin:0 0;-webkit-text-stroke:0.3px #131722;">TVC</span>
<span class="t" style="left:392.70px;top:56px;font-size:20.5px;letter-spacing:0.000px;color:#e0185c;font-weight:700;">≈</span>
<span class="t" style="left:431.20px;top:59px;font-size:15.6px;letter-spacing:0.000px;color:#131722;">O</span>
<span class="t" style="left:443.70px;top:59px;font-size:15.6px;letter-spacing:0.337px;color:#089981;">3,684.650</span>
<span class="t" style="left:522.90px;top:59px;font-size:15.6px;letter-spacing:0.000px;color:#131722;">H</span>
<span class="t" style="left:534.90px;top:59px;font-size:15.6px;letter-spacing:0.338px;color:#089981;">3,727.254</span>
<span class="t" style="left:614.20px;top:59px;font-size:15.6px;letter-spacing:0.000px;color:#131722;">L</span>
<span class="t" style="left:623.20px;top:59px;font-size:15.6px;letter-spacing:0.225px;color:#089981;">3,683.980</span>
<span class="t" style="left:702.00px;top:59px;font-size:15.6px;letter-spacing:0.000px;color:#131722;">C</span>
<span class="t" style="left:713.60px;top:59px;font-size:15.6px;letter-spacing:0.237px;color:#089981;">3,724.420</span>
<span class="t" style="left:793.00px;top:59px;font-size:15.6px;letter-spacing:-0.017px;color:#089981;">+39.770</span>
<span class="t" style="left:855.40px;top:59px;font-size:15.6px;letter-spacing:-0.329px;color:#089981;">(+1.08%)</span>
<span class="t" style="left:1706.43px;top:60px;font-size:15px;letter-spacing:-0.450px;color:#131722;transform:scaleX(0.8660);transform-origin:0 0;">USD</span>
<span class="t" style="left:22.80px;top:91px;font-size:15.6px;letter-spacing:0.225px;color:#f23645;font-weight:700;">3,724.420</span>
<span class="t" style="left:41.83px;top:110px;font-size:13.8px;letter-spacing:-0.450px;color:#f23645;transform:scaleX(0.9657);transform-origin:0 0;">SELL</span>
<span class="t" style="left:161.80px;top:91px;font-size:15.6px;letter-spacing:0.250px;color:#2962ff;font-weight:700;">3,724.850</span>
<span class="t" style="left:183.43px;top:110px;font-size:13.8px;letter-spacing:-0.450px;color:#2962ff;transform:scaleX(0.9732);transform-origin:0 0;">BUY</span>
<span class="t" style="left:117.50px;top:101px;font-size:12px;letter-spacing:0.100px;color:#131722;background:#fff;">430</span>
<span class="t" style="left:1707.40px;top:178px;font-size:15px;letter-spacing:0.075px;color:#131722;">3,600.000</span>
<span class="t" style="left:1707.40px;top:242px;font-size:15px;letter-spacing:0.075px;color:#131722;">3,500.000</span>
<span class="t" style="left:1707.40px;top:306px;font-size:15px;letter-spacing:0.075px;color:#131722;">3,400.000</span>
<span class="t" style="left:1707.40px;top:370px;font-size:15px;letter-spacing:0.075px;color:#131722;">3,300.000</span>
<span class="t" style="left:1707.40px;top:434px;font-size:15px;letter-spacing:0.075px;color:#131722;">3,200.000</span>
<span class="t" style="left:1707.40px;top:498px;font-size:15px;letter-spacing:0.075px;color:#131722;">3,100.000</span>
<span class="t" style="left:1707.40px;top:562px;font-size:15px;letter-spacing:0.075px;color:#131722;">3,000.000</span>
<span class="t" style="left:1707.40px;top:626px;font-size:15px;letter-spacing:0.075px;color:#131722;">2,900.000</span>
<span class="t" style="left:1707.40px;top:691px;font-size:15px;letter-spacing:0.075px;color:#131722;">2,800.000</span>
<span class="t" style="left:1707.40px;top:755px;font-size:15px;letter-spacing:0.075px;color:#131722;">2,700.000</span>
<span class="t" style="left:1652.97px;top:100px;font-size:15px;letter-spacing:-0.450px;color:#fff;transform:scaleX(0.9256);transform-origin:0 0;">GOLD</span>
<span class="t" style="left:1708.30px;top:99px;font-size:15px;letter-spacing:0.075px;color:#fff;">3,724.420</span>
<span class="t" style="left:1709.30px;top:117px;font-size:15px;letter-spacing:-0.114px;color:rgba(255,255,255,.72);">10:19:03</span>
<span class="t" style="left:60.62px;top:780px;font-size:15px;letter-spacing:-0.450px;color:#131722;transform:scaleX(0.9801);transform-origin:0 0;">Nov</span>
<span class="t" style="left:195.50px;top:780px;font-size:15px;letter-spacing:-0.150px;color:#131722;">Dec</span>
<span class="t" style="left:333.50px;top:780px;font-size:15px;letter-spacing:0.333px;color:#131722;font-weight:700;">2025</span>
<span class="t" style="left:479.95px;top:780px;font-size:15px;letter-spacing:-0.175px;color:#131722;">Feb</span>
<span class="t" style="left:608.10px;top:780px;font-size:15px;letter-spacing:-0.450px;color:#131722;">Mar</span>
<span class="t" style="left:752.00px;top:780px;font-size:15px;letter-spacing:-0.350px;color:#131722;">Apr</span>
<span class="t" style="left:890.92px;top:780px;font-size:15px;letter-spacing:-0.450px;color:#131722;transform:scaleX(0.9770);transform-origin:0 0;">May</span>
<span class="t" style="left:1035.60px;top:780px;font-size:15px;letter-spacing:-0.100px;color:#131722;">Jun</span>
<span class="t" style="left:1172.60px;top:780px;font-size:15px;letter-spacing:0.400px;color:#131722;">Jul</span>
<span class="t" style="left:1318.70px;top:780px;font-size:15px;letter-spacing:-0.450px;color:#131722;transform:scaleX(0.9641);transform-origin:0 0;">Aug</span>
<span class="t" style="left:1460.02px;top:780px;font-size:15px;letter-spacing:-0.450px;color:#131722;transform:scaleX(0.9834);transform-origin:0 0;">Sep</span>
<span class="t" style="left:1602.00px;top:780px;font-size:15px;letter-spacing:0.600px;color:#131722;">Oct</span>
<span class="t" style="left:15.16px;top:821px;font-size:17.5px;letter-spacing:-0.450px;color:#0f0f0f;transform:scaleX(0.9392);transform-origin:0 0;-webkit-text-stroke:0.35px #0f0f0f;">1D</span>
<span class="t" style="left:50.08px;top:821px;font-size:17.5px;letter-spacing:-0.450px;color:#0f0f0f;transform:scaleX(0.9246);transform-origin:0 0;-webkit-text-stroke:0.35px #0f0f0f;">5D</span>
<span class="t" style="left:85.44px;top:821px;font-size:17.5px;letter-spacing:-0.450px;color:#0f0f0f;transform:scaleX(0.9559);transform-origin:0 0;-webkit-text-stroke:0.35px #0f0f0f;">1M</span>
<span class="t" style="left:121.74px;top:821px;font-size:17.5px;letter-spacing:-0.450px;color:#0f0f0f;transform:scaleX(0.9559);transform-origin:0 0;-webkit-text-stroke:0.35px #0f0f0f;">3M</span>
<span class="t" style="left:157.50px;top:821px;font-size:17.5px;letter-spacing:-0.300px;color:#0f0f0f;-webkit-text-stroke:0.35px #0f0f0f;">6M</span>
<span class="t" style="left:194.46px;top:821px;font-size:17.5px;letter-spacing:-0.450px;color:#0f0f0f;transform:scaleX(0.9408);transform-origin:0 0;-webkit-text-stroke:0.35px #0f0f0f;">YTD</span>
<span class="t" style="left:240.78px;top:821px;font-size:17.5px;letter-spacing:-0.450px;color:#0f0f0f;transform:scaleX(0.9156);transform-origin:0 0;-webkit-text-stroke:0.35px #0f0f0f;">1Y</span>
<span class="t" style="left:274.91px;top:821px;font-size:17.5px;letter-spacing:-0.450px;color:#0f0f0f;transform:scaleX(0.8900);transform-origin:0 0;-webkit-text-stroke:0.35px #0f0f0f;">5Y</span>
<span class="t" style="left:309.30px;top:821px;font-size:17.5px;letter-spacing:0.850px;color:#0f0f0f;-webkit-text-stroke:0.35px #0f0f0f;">All</span>
<span class="t" style="left:1626.30px;top:821px;font-size:17.5px;letter-spacing:-0.200px;color:#0f0f0f;-webkit-text-stroke:0.35px #0f0f0f;">16:10:55</span>
<span class="t" style="left:1698.72px;top:821px;font-size:17.5px;letter-spacing:-0.450px;color:#0f0f0f;transform:scaleX(0.9809);transform-origin:0 0;-webkit-text-stroke:0.35px #0f0f0f;">UTC+5:30</span>
</body></html>
